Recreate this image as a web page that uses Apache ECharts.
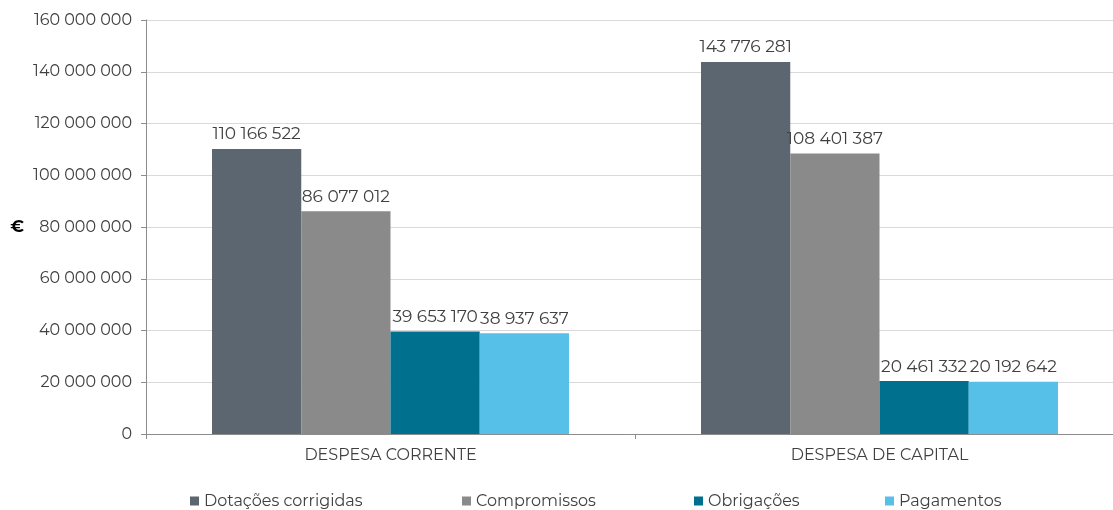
<!DOCTYPE html>
<html lang="pt">
    <head>
        <meta charset="UTF-8" />
        <title>Despesa</title>
        <script src="https://cdn.jsdelivr.net/npm/echarts@6.0.0/dist/echarts.min.js"></script>
        <style>
            body,
            html {
                margin: 0;
                padding: 0;
                width: 100%;
                height: 100%;
                overflow: hidden;
                background: #fff;
            }
            #main {
                width: 1113px;
                height: 510px;
            }
        </style>
    </head>
    <body>
        <div id="main"></div>
        <script>
            const categories = ["DESPESA CORRENTE", "DESPESA DE CAPITAL"]
            const seriesNames = ["Dotações corrigidas", "Compromissos", "Obrigações", "Pagamentos"]
            const dotacoes = [110166522, 143776281]
            const compromissos = [86077012, 108401387]
            const obrigacoes = [39653170, 20461332]
            const pagamentos = [38937637, 20192642]
            const colors = ["#5b6670", "#8a8a8a", "#00708f", "#56c0e8"]
            const legendLeft = [190, 462, 694, 885]

            const fontFamily = "Montserrat, 'Open Sans', 'DejaVu Sans', sans-serif"
            const fmt = (v) => String(Math.round(v)).replace(/\B(?=(\d{3})+(?!\d))/g, " ")

            const chart = echarts.init(document.getElementById("main"))
            const values = [dotacoes, compromissos, obrigacoes, pagamentos]

            chart.setOption({
                animation: false,
                color: colors,
                grid: { left: 146, right: -11, top: 20, bottom: 76, outerBoundsMode: "none" },
                // one legend per item so the spacing follows the original slots
                legend: seriesNames.map((name, i) => ({
                    bottom: 1,
                    left: legendLeft[i],
                    padding: 0,
                    icon: "rect",
                    itemWidth: 9,
                    itemHeight: 9,
                    textStyle: { fontFamily, fontSize: 16, color: "#404040" },
                    data: [name],
                })),
                xAxis: {
                    type: "category",
                    data: categories,
                    axisLine: { lineStyle: { color: "#8c8c8c" } },
                    axisTick: { show: true, length: 5, lineStyle: { color: "#8c8c8c" } },
                    axisLabel: { fontFamily, fontSize: 16, color: "#404040", margin: 13 },
                },
                yAxis: {
                    type: "value",
                    min: 0,
                    max: 160000000,
                    interval: 20000000,
                    name: "€",
                    nameLocation: "middle",
                    nameRotate: 0,
                    nameGap: 122,
                    nameTextStyle: { fontFamily, fontSize: 17, fontWeight: "bold", color: "#000" },
                    axisLine: { show: true, lineStyle: { color: "#8c8c8c" } },
                    axisTick: { show: true, length: 5, lineStyle: { color: "#8c8c8c" } },
                    axisLabel: { fontFamily, fontSize: 16, color: "#404040", margin: 14, formatter: fmt },
                    splitLine: { lineStyle: { color: "#d9d9d9" } },
                },
                series: seriesNames.map((name, i) => ({
                    name,
                    type: "bar",
                    data: values[i],
                    barGap: 0,
                    barCategoryGap: "27%",
                    label: {
                        show: true,
                        position: "top",
                        distance: 6,
                        fontFamily,
                        fontSize: 17,
                        color: "#404040",
                        formatter: (p) => fmt(p.value),
                    },
                })),
            })
        </script>
    </body>
</html>
